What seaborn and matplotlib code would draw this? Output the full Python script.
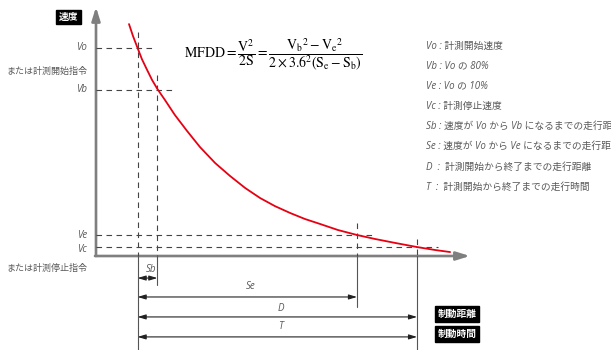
import numpy as np
import pandas as pd
import matplotlib
matplotlib.use("Agg")
import matplotlib.pyplot as plt
import seaborn as sns

# ---- data ----
distance = [10.0, 11.2, 12.6, 13.9, 15.5, 17.0, 18.6, 20.9, 23.9, 27.6, 31.5, 36.1, 40.6,
            45.2, 49.7, 54.2, 58.8, 63.3, 67.9, 73.3, 79.1, 84.5, 90.6, 97.3, 102.7, 107.3]
speed = [111.5, 105.8, 100.0, 94.7, 89.4, 84.6, 80.3, 75.0, 67.8, 60.1, 52.4, 44.7, 38.5,
         32.7, 27.9, 24.0, 20.7, 17.8, 15.4, 12.5, 10.1, 8.2, 6.3, 4.3, 2.9, 1.9]
V_o, V_b, V_e, V_c = 100.0, 80.0, 10.0, 4.3
S_o, S_b, S_e, S_d = 12.6, 18.6, 79.1, 97.3

legend_lines = [
    "Vo : 計測開始速度",
    "Vb : Vo の 80%",
    "Ve : Vo の 10%",
    "Vc : 計測停止速度",
    "Sb : 速度が Vo から Vb になるまでの走行距離",
    "Se : 速度が Vo から Ve になるまでの走行距離",
    "D  :  計測開始から終了までの走行距離",
    "T  :  計測開始から終了までの走行時間",
]

sns.set_theme(style="white")
plt.rcParams["font.family"] = ["Open Sans", "Noto Sans CJK JP", "DejaVu Sans"]
plt.rcParams["mathtext.fontset"] = "stix"

fig = plt.figure(figsize=(6.11, 3.5), dpi=100)
ax = fig.add_axes([0, 0, 1, 1])
# pixel layout: x_px = 96 + 3.3*x ; y_px = 256 - 2.08*y
ax.set_xlim(-96 / 3.3, (611 - 96) / 3.3)
ax.set_ylim(-(350 - 256) / 2.08, 256 / 2.08)
ax.set_axis_off()

df = pd.DataFrame({"distance": distance, "speed": speed})
sns.lineplot(data=df, x="distance", y="speed", color="#e60012", lw=1.3, ax=ax, zorder=5)

axis_col = "#7f7f7f"
ax.annotate("", xy=(0, 119.7), xytext=(0, 0),
            arrowprops=dict(arrowstyle="-|>,head_length=0.8,head_width=0.25", color=axis_col,
                            lw=1.9, shrinkA=0, shrinkB=0, mutation_scale=10))
ax.annotate("", xy=(113.3, 0), xytext=(-0.3, 0),
            arrowprops=dict(arrowstyle="-|>,head_length=0.8,head_width=0.25", color=axis_col,
                            lw=1.9, shrinkA=0, shrinkB=0, mutation_scale=10))

dash_kw = dict(color="#444444", lw=0.8, ls=(0, (5, 4)), zorder=3)
ax.plot([0, 17.6], [V_o, V_o], **dash_kw)
ax.plot([0, 23.3], [V_b, V_b], **dash_kw)
ax.plot([0, 84.5], [V_e, V_e], **dash_kw)
ax.plot([0, 103.6], [V_c, V_c], **dash_kw)
ax.plot([S_o, S_o], [107.7, 0], **dash_kw)
ax.plot([S_b, S_b], [87.0, 0], **dash_kw)
ax.plot([S_e, S_e], [15.9, 0], **dash_kw)
ax.plot([S_d, S_d], [8.2, 0], **dash_kw)
sol_kw = dict(color="#555555", lw=0.8, zorder=3)
ax.plot([S_o, S_o], [0, -45], **sol_kw)
ax.plot([S_b, S_b], [0, -13.9], **sol_kw)
ax.plot([S_e, S_e], [0, -24.5], **sol_kw)
ax.plot([S_d, S_d], [0, -45], **sol_kw)

txt_col = "#595959"
fs = 6.5
arr_kw = dict(arrowstyle="<|-|>,head_length=0.6,head_width=0.18", color="#222222", lw=0.8,
              shrinkA=0, shrinkB=0, mutation_scale=8)
for (x0, x1, yy, lab, ly) in [(S_o, S_b, -10.6, "Sb", -6.5),
                              (S_o, S_e, -19.7, "Se", -14.9),
                              (S_o, S_d, -29.3, "D", -25.3),
                              (S_o, S_d, -38.9, "T", -34.1)]:
    ax.annotate("", xy=(x1, yy), xytext=(x0, yy), arrowprops=arr_kw)
    ax.text((x0 + x1) / 2 + 1, ly, lab, ha="center", va="center", fontsize=fs + 0.5,
            style="italic", color=txt_col)

lx = -2.7
for (yy, lab, it) in [(V_o, "Vo", True), (88.9, "または計測開始指令", False), (V_b, "Vb", True),
                      (V_e, "Ve", True), (2.9, "Vc", True), (-5.8, "または計測停止指令", False)]:
    ax.text(lx, yy, lab, ha="right", va="center", fontsize=fs + (0.5 if it else 0),
            color=txt_col, style="italic" if it else "normal")

box = dict(boxstyle="square,pad=0.25", fc="black", ec="black")
ax.text(-8.3, 114.9, "速度", ha="center", va="center", fontsize=7, color="white",
        fontweight="bold", bbox=box, family=["Noto Sans CJK JP"])
for yy, lab in [(-27.9, "制動距離"), (-37.5, "制動時間")]:
    ax.text(109.4, yy, lab, ha="center", va="center", fontsize=7, color="white",
            fontweight="bold", bbox=dict(boxstyle="square,pad=0.3", fc="black", ec="black"),
            family=["Noto Sans CJK JP"])

formula = (r"$\mathrm{MFDD}=\dfrac{\mathrm{V}^{2}}{2\mathrm{S}}="
           r"\dfrac{{\mathrm{V}_{\mathrm{b}}}^{2}-{\mathrm{V}_{\mathrm{e}}}^{2}}"
           r"{2\times3.6^{2}\left(\mathrm{S}_{\mathrm{e}}-\mathrm{S}_{\mathrm{b}}\right)}$")
ax.text(53.8, 96.6, formula, ha="center", va="center", fontsize=10, color="black")

ly0 = 101.0
for i, line in enumerate(legend_lines):
    ax.text(100.0, ly0 - i * 9.7, line, ha="left", va="center", fontsize=7,
            color=txt_col, style="italic")

fig.savefig("out.png", dpi=100)
